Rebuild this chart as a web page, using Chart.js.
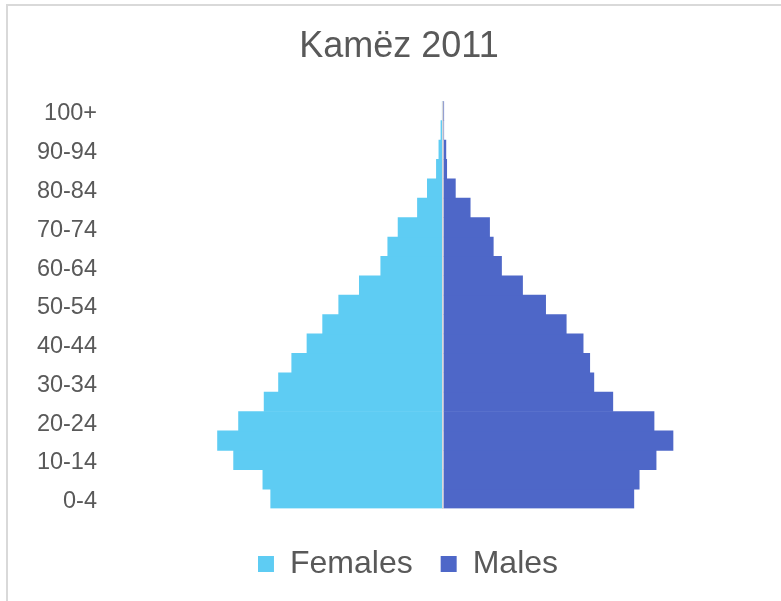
<!DOCTYPE html>
<html>
<head>
<meta charset="utf-8">
<script src="https://cdn.jsdelivr.net/npm/chart.js@4.4.1/dist/chart.umd.min.js"></script>
<style>
  html, body { margin: 0; padding: 0; background: #fff; overflow: hidden; }
  #frame {
    position: absolute; left: 6px; top: 4px; width: 900px; height: 700px;
    border-top: 2px solid #d9d9d9; border-left: 2px solid #d9d9d9;
  }
  #wrap { position: absolute; left: 0; top: 0; width: 800px; height: 590px; }
</style>
</head>
<body>
<div id="frame"></div>
<div id="wrap"><canvas id="chart"></canvas></div>
<script>
'use strict';

// age groups, bottom to top
var ageGroups = ['0-4', '5-9', '10-14', '15-19', '20-24', '25-29', '30-34', '35-39',
  '40-44', '45-49', '50-54', '55-59', '60-64', '65-69', '70-74', '75-79',
  '80-84', '85-89', '90-94', '95-99', '100+'];

// persons
var females = [4180, 4370, 5080, 5470, 4960, 4340, 3990, 3670, 3300, 2920, 2530,
  2030, 1510, 1340, 1090, 620, 380, 160, 100, 50, 15];
var males = [4630, 4760, 5170, 5580, 5120, 4120, 3660, 3560, 3400, 2990, 2490,
  1930, 1420, 1220, 1130, 660, 300, 90, 70, 15, 5];

var femaleColor = '#5ECCF3';
var maleColor = '#4E67C8';
var textColor = '#595959';
var fontFamily = '"Liberation Sans", Arial, sans-serif';
var axisMax = 8200;
var padLeft = 17;

// the legend row is centred with its trailing padding, nudge it back
var legendShift = {
  id: 'legendShift',
  afterLayout: function (c) {
    if (!c.legend) return;
    c.legend.left += 9;
    c.legend.right += 9;
  }
};

var ctx = document.getElementById('chart').getContext('2d');
var chart = new Chart(ctx, {
  type: 'bar',
  data: {
    labels: ageGroups,
    datasets: [
      {
        label: 'Females',
        data: females.map(function (v) { return -v; }),
        backgroundColor: femaleColor,
        borderWidth: 0,
        barPercentage: 1,
        categoryPercentage: 1
      },
      {
        label: 'Males',
        data: males,
        backgroundColor: maleColor,
        borderWidth: 0,
        barPercentage: 1,
        categoryPercentage: 1
      }
    ]
  },
  options: {
    indexAxis: 'y',
    responsive: true,
    maintainAspectRatio: false,
    animation: false,
    layout: { padding: { left: padLeft, right: 19, top: 0, bottom: 0 } },
    scales: {
      x: {
        stacked: true,
        min: -axisMax,
        max: axisMax,
        ticks: { display: false, stepSize: axisMax },
        border: { display: false },
        grid: {
          z: 1,
          drawTicks: false,
          lineWidth: 1.5,
          color: function (c) { return c.tick && c.tick.value === 0 ? '#d9d9d9' : 'rgba(0,0,0,0)'; }
        },
        afterFit: function (s) { s.height = 11.5; }
      },
      y: {
        stacked: true,
        reverse: true,
        border: { display: false },
        grid: { display: false, drawTicks: false },
        ticks: {
          autoSkip: false,
          padding: 8,
          labelOffset: 3,
          color: textColor,
          font: { family: fontFamily, size: 23.5 },
          callback: function (val, i) { return i % 2 === 0 ? this.getLabelForValue(val) : ''; }
        },
        afterFit: function (s) { s.width = 105 - padLeft; }
      }
    },
    plugins: {
      title: {
        display: true,
        text: 'Kamëz 2011',
        color: textColor,
        font: { family: fontFamily, size: 36, weight: 'normal' },
        padding: { top: 25, bottom: 33 }
      },
      legend: {
        position: 'bottom',
        labels: {
          color: textColor,
          font: { family: fontFamily, size: 32 },
          boxWidth: 16,
          boxHeight: 16,
          padding: 28
        }
      },
      tooltip: { enabled: false }
    }
  },
  plugins: [legendShift]
});
</script>
</body>
</html>
